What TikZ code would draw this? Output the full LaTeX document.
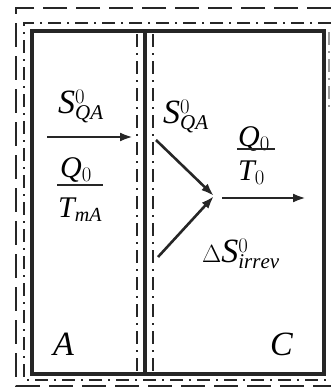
\documentclass[tikz,border=0pt]{standalone}
\usepackage{fontspec}
\setmainfont{Liberation Serif}
\usetikzlibrary{arrows.meta}
\DeclareMathSizes{34}{34}{21}{14}
\DeclareMathSizes{30}{30}{20}{14}
\begin{document}
\begin{tikzpicture}[x=1pt,y=-1pt,
  wall/.style={line width=4.5pt, draw=black!85},
  outerdash/.style={line width=2pt, draw=black!85, dash pattern=on 24pt off 9pt},
  dashdot/.style={line width=2pt, draw=black!85, dash pattern=on 13pt off 6pt on 2pt off 6pt},
  flow/.style={line width=2.6pt, draw=black!85, -{Latex[length=13pt,width=9pt]}},
  fbar/.style={line width=1.8pt, draw=black!85},
  big/.style={font=\fontsize{34}{40}\selectfont, inner sep=0pt, anchor=base west},
  mid/.style={font=\fontsize{30}{36}\selectfont, inner sep=0pt, anchor=base west}]
\useasboundingbox (0,0) rectangle (331,388);
% outer dashed boundary
\draw[outerdash] (331,8) -- (16,8) -- (16,386) -- (331,386);
% dash-dot boundary
\draw[dashdot] (331,23) -- (24,23) -- (24,380) -- (331,380);
\draw[dashdot, draw=black!40] (329,32) -- (329,107);
% walls
\draw[wall] (32,31) rectangle (324,374);
\draw[wall] (145,31) -- (145,374);
% interior dash-dot lines
\draw[dashdot] (137,34) -- (137,372);
\draw[dashdot] (153,34) -- (153,372);
% flow coordinates
\coordinate (a1) at (47,137);
\coordinate (a2) at (133,137);
\coordinate (u1) at (156,140);
\coordinate (m) at (214,196);
\coordinate (l1) at (158,257);
\coordinate (o1) at (222,198);
\coordinate (o2) at (306,198);
\draw[flow] (a1) -- (a2);
\draw[flow] (u1) -- (m);
\draw[flow] (l1) -- (m);
\draw[flow] (o1) -- (o2);
% labels, region A
\node[big] (sA) at (58,113) {$\mathit{S}^{0}_{\mathit{QA}}$};
\node[mid] (qA) at (60,177) {$\mathit{Q}_{0}$};
\coordinate (bA1) at (57,185);
\coordinate (bA2) at (103,185);
\draw[fbar] (bA1) -- (bA2);
\node[mid] (tA) at (58,217) {$\mathit{T}_{\mathit{mA}}$};
% labels, region C
\node[big] (sC) at (163,123) {$\mathit{S}^{0}_{\mathit{QA}}$};
\node[mid] (qC) at (238,146) {$\mathit{Q}_{0}$};
\coordinate (bC1) at (237,149);
\coordinate (bC2) at (275,149);
\draw[fbar] (bC1) -- (bC2);
\node[mid] (tC) at (238,180) {$\mathit{T}_{0}$};
\node[big] (dS) at (202,262) {$\Delta\mathit{S}^{0}_{\mathit{irrev}}$};
\node[big] (A) at (53,355) {$\mathit{A}$};
\node[big] (C) at (270,355) {$\mathit{C}$};
\end{tikzpicture}
\end{document}
